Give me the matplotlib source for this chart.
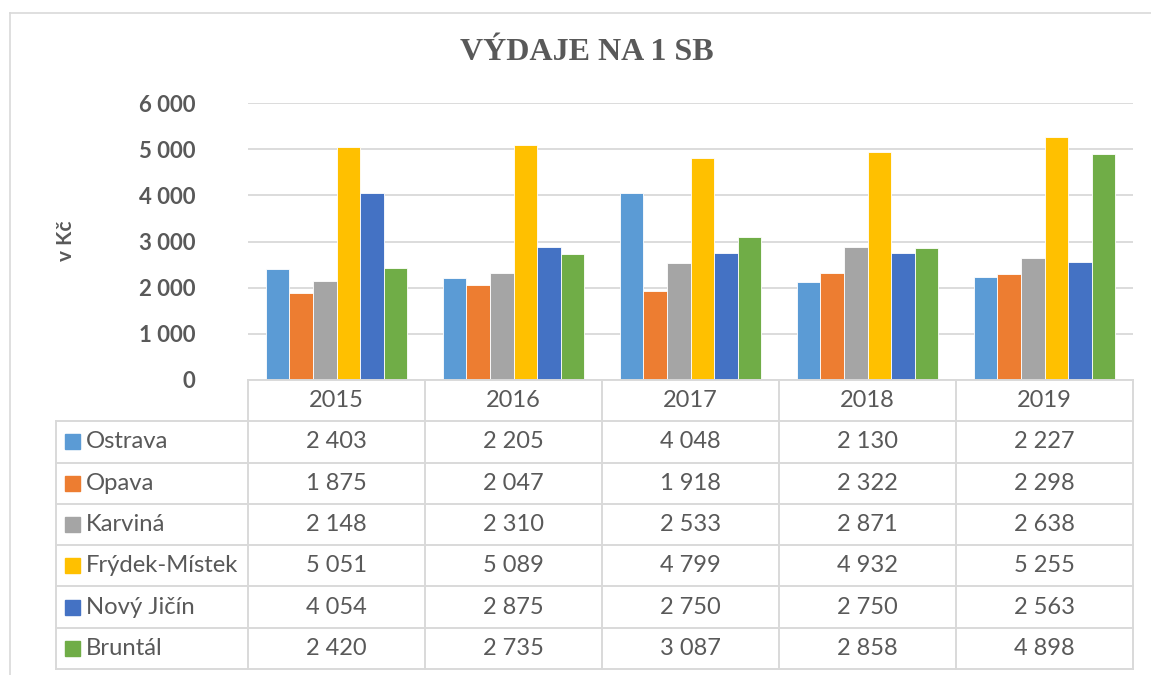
import matplotlib.pyplot as plt
import numpy as np

# data
years = ['2015', '2016', '2017', '2018', '2019']
towns = ['Ostrava', 'Opava', 'Karviná', 'Frýdek-Místek', 'Nový Jičín', 'Bruntál']
ostrava = [2403, 2205, 4048, 2130, 2227]
opava = [1875, 2047, 1918, 2322, 2298]
karvina = [2148, 2310, 2533, 2871, 2638]
frydek = [5051, 5089, 4799, 4932, 5255]
novy_jicin = [4054, 2875, 2750, 2750, 2563]
bruntal = [2420, 2735, 3087, 2858, 4898]
y_ticks = [0, 1000, 2000, 3000, 4000, 5000, 6000]

series = [ostrava, opava, karvina, frydek, novy_jicin, bruntal]
colors = ['#5B9BD5', '#ED7D31', '#A5A5A5', '#FFC000', '#4472C4', '#70AD47']
grid_c = '#D9D9D9'
txt_c = '#595959'

plt.rcParams['font.family'] = ['Lato', 'DejaVu Sans']

W, H = 1151, 675
fig = plt.figure(figsize=(W / 100, H / 100), dpi=100)


def fx(px):
    return px / W


def fy(py):
    return 1 - py / H


# outer chart border
fig.add_artist(plt.Line2D([fx(10), fx(10)], [fy(13), 0], color=grid_c, lw=1.2))
fig.add_artist(plt.Line2D([fx(10), 1], [fy(13), fy(13)], color=grid_c, lw=1.2))

fig.text(fx(587), fy(52), 'VÝDAJE NA 1 SB', ha='center', va='center',
         fontsize=23, fontweight='bold', color=txt_c, family='Liberation Serif')

# bar area
left, right, top, bottom = 248, 1133, 103, 380
ax = fig.add_axes([fx(left), fy(bottom), fx(right - left), (bottom - top) / H])
n = len(series)
bw = 0.8 / n
x = np.arange(len(years))
for i, (vals, c) in enumerate(zip(series, colors)):
    ax.bar(x - 0.4 + bw * (i + 0.5), vals, width=bw, color=c,
           edgecolor='white', linewidth=0.6, zorder=3)
ax.set_xlim(-0.5, len(years) - 0.5)
ax.set_ylim(0, 6000)
ax.set_yticks(y_ticks)
ax.set_yticklabels([f'{v:,}'.replace(',', ' ') for v in y_ticks],
                   fontsize=16, fontweight='bold', color=txt_c)
ax.tick_params(axis='y', length=0, pad=38)
ax.set_xticks([])
ax.grid(axis='y', color=grid_c, lw=1.3, zorder=0)
for s in ax.spines.values():
    s.set_visible(False)
fig.text(fx(66), fy(241), 'v Kč', rotation=90, ha='center', va='center',
         fontsize=15, fontweight='bold', color=txt_c)

# data table below
tl, tt, tb = 56, 380, 669
tab = fig.add_axes([fx(tl), fy(tb), fx(right - tl), (tb - tt) / H])
cw = (right - left) / len(years)
lw_units = (left - tl) / cw
tab.set_xlim(-lw_units, len(years))
tab.set_ylim(len(towns) + 1, 0)
tab.axis('off')
lc = dict(color=grid_c, lw=1.4, clip_on=False)
nrows = len(towns) + 1
# horizontal lines
tab.plot([0, len(years)], [0, 0], **lc)
for r in range(1, nrows + 1):
    tab.plot([-lw_units, len(years)], [r, r], **lc)
# vertical lines
tab.plot([-lw_units, -lw_units], [1, nrows], **lc)
for c in range(len(years) + 1):
    tab.plot([c, c], [0, nrows], **lc)
for j, yr in enumerate(years):
    tab.text(j + 0.5, 0.5, yr, ha='center', va='center', fontsize=17, color=txt_c)
for r, (name, vals, col) in enumerate(zip(towns, series, colors), start=1):
    tab.add_patch(plt.Rectangle((-lw_units + 0.05, r + 0.32), 0.085, 0.36,
                                color=col, clip_on=False))
    tab.text(-lw_units + 0.17, r + 0.5, name, ha='left', va='center',
             fontsize=17.2, color=txt_c)
    for j, v in enumerate(vals):
        tab.text(j + 0.5, r + 0.5, f'{v:,}'.replace(',', ' '), ha='center',
                 va='center', fontsize=17, color=txt_c)

fig.savefig('out.png', dpi=100)
